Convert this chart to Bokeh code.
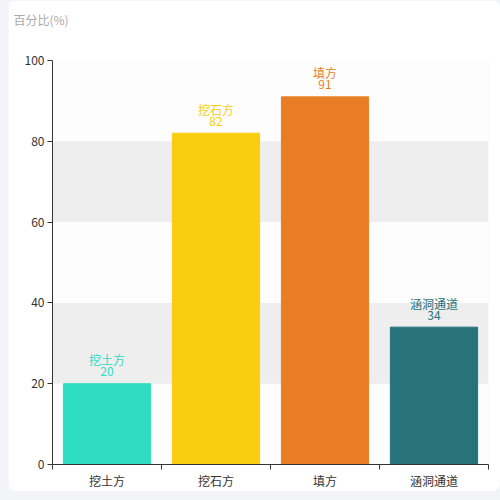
from bokeh.core.properties import value
from bokeh.embed import file_html
from bokeh.models import ColumnDataSource, FixedTicker, GlobalInlineStyleSheet, Range1d, Title
from bokeh.plotting import figure
from bokeh.resources import INLINE

# data
categories = ["挖土方", "挖石方", "填方", "涵洞通道"]
percent = [20, 82, 91, 34]
bar_colors = ["#2edcc2", "#facd10", "#e87d25", "#27727b"]
y_ticks = [0, 20, 40, 60, 80, 100]
y_name = "百分比(%)"

FONT = "Noto Sans CJK SC"

xs = [i + 0.5 for i in range(len(categories))]
source = ColumnDataSource(data=dict(
    x=xs,
    top=percent,
    name=categories,
    label=[str(v) for v in percent],
    color=bar_colors,
))

p = figure(
    title=None,
    frame_width=436, frame_height=404,
    x_range=Range1d(0, len(categories)), y_range=Range1d(0, 100),
    output_backend="svg", toolbar_location=None, tools="",
    min_border_left=44, min_border_right=12, min_border_top=60, min_border_bottom=26,
)
p.outline_line_color = None
p.background_fill_color = "#fdfdfd"
p.border_fill_color = "white"

# page grey + card look
p.stylesheets = [GlobalInlineStyleSheet(css="body{margin:0 0 0 8px !important;background:#f3f4f8;}")]
p.styles = {"border-radius": "8px", "overflow": "hidden"}

# y axis name in the top-left corner: an empty spacer title, then the name above it
p.add_layout(Title(text=" ", standoff=14, text_font=FONT, text_font_size="12px"), "above")
p.add_layout(Title(text=y_name, align="left", offset=-39, standoff=0,
                   text_color="#aaaaaa", text_font=FONT, text_font_size="12px",
                   text_font_style="normal"), "above")

# grid bands
p.xgrid.visible = False
p.ygrid.grid_line_color = None
p.ygrid.band_fill_color = "#eeeeee"
p.ygrid.band_fill_alpha = 1.0
p.ygrid.ticker = FixedTicker(ticks=y_ticks)

# y axis
p.yaxis.ticker = FixedTicker(ticks=y_ticks)
p.yaxis.axis_line_color = "#333333"
p.yaxis.major_tick_line_color = "#333333"
p.yaxis.major_tick_in = 0
p.yaxis.major_tick_out = 5
p.yaxis.minor_tick_line_color = None
p.yaxis.major_label_standoff = 3
p.yaxis.major_label_text_color = "#333333"
p.yaxis.major_label_text_font = FONT
p.yaxis.major_label_text_font_size = "12px"

# x axis: labels at centres, ticks at category boundaries
p.xaxis.ticker = FixedTicker(ticks=xs, minor_ticks=list(range(len(categories) + 1)))
p.xaxis.major_label_overrides = {x: c for x, c in zip(xs, categories)}
p.xaxis.axis_line_color = "#333333"
p.xaxis.major_tick_line_color = None
p.xaxis.minor_tick_line_color = "#333333"
p.xaxis.minor_tick_in = 0
p.xaxis.minor_tick_out = 5
p.xaxis.major_label_standoff = 1
p.xaxis.major_label_text_color = "#333333"
p.xaxis.major_label_text_font = FONT
p.xaxis.major_label_text_font_size = "12px"

p.vbar(x="x", top="top", width=0.8, color="color", source=source)

p.text(x="x", y="top", text="label", text_color="color", source=source,
       text_align="center", text_baseline="alphabetic", y_offset=-12,
       text_font=value(FONT), text_font_size="12px")
p.text(x="x", y="top", text="name", text_color="color", source=source,
       text_align="center", text_baseline="alphabetic", y_offset=-24,
       text_font=value(FONT), text_font_size="12px")

open("out.html", "w").write(file_html(p, INLINE))
